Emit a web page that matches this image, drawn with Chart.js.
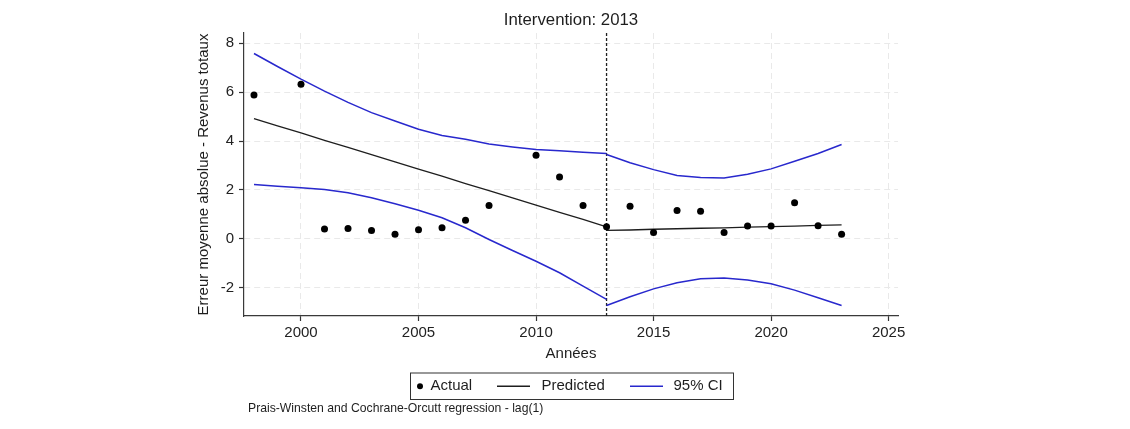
<!DOCTYPE html>
<html>
<head>
<meta charset="utf-8">
<script src="https://cdn.jsdelivr.net/npm/chart.js@4"></script>
<style>
  html, body { margin: 0; padding: 0; background: #ffffff; }
  #wrap { width: 1130px; height: 429px; }
</style>
</head>
<body>
<div id="wrap"><canvas id="c" width="1130" height="429"></canvas></div>
<script>
// ---- data ----
const years = [1998,1999,2000,2001,2002,2003,2004,2005,2006,2007,2008,2009,2010,2011,2012,2013,2014,2015,2016,2017,2018,2019,2020,2021,2022,2023];
const actual = [5.88,null,6.32,0.40,0.42,0.34,0.18,0.37,0.45,0.76,1.36,null,3.42,2.53,1.36,0.49,1.33,0.26,1.16,1.13,0.26,0.52,0.52,1.47,0.53,0.19];

const preYears = [1998,1999,2000,2001,2002,2003,2004,2005,2006,2007,2008,2009,2010,2011,2012,2013];
const predPre  = [4.92,4.62,4.33,4.03,3.74,3.44,3.15,2.85,2.56,2.26,1.97,1.67,1.38,1.08,0.79,0.49];
const upperPre = [7.58,7.05,6.53,6.04,5.58,5.16,4.82,4.48,4.23,4.07,3.88,3.76,3.65,3.60,3.54,3.49];
const lowerPre = [2.22,2.15,2.09,2.02,1.88,1.68,1.43,1.17,0.86,0.45,-0.03,-0.48,-0.92,-1.39,-1.94,-2.48];

const postYears = [2013,2014,2015,2016,2017,2018,2019,2020,2021,2022,2023];
const predPost  = [0.34,0.36,0.39,0.41,0.43,0.45,0.48,0.50,0.52,0.55,0.57];
const upperPost = [3.45,3.11,2.83,2.59,2.51,2.49,2.64,2.86,3.17,3.49,3.86];
const lowerPost = [-2.73,-2.37,-2.05,-1.80,-1.64,-1.61,-1.69,-1.84,-2.10,-2.41,-2.73];

const interventionYear = 2013;
const xTicks = [2000,2005,2010,2015,2020,2025];
const yTicks = [-2,0,2,4,6,8];

const titleText = 'Intervention: 2013';
const xTitle = 'Années';
const yTitle = 'Erreur moyenne absolue - Revenus totaux';
const noteText = 'Prais-Winsten and Cochrane-Orcutt regression - lag(1)';
const legendLabels = ['Actual', 'Predicted', '95% CI'];

// ---- helpers ----
const FONT = '"Liberation Sans", Arial, Helvetica, sans-serif';
const BLUE = 'rgb(40,40,205)';
const BLACK = '#1e1e1e';
function pts(xs, ys) {
  const out = [];
  xs.forEach((x, i) => { if (ys[i] !== null && ys[i] !== undefined) out.push({x: x, y: ys[i]}); });
  return out;
}
function lineDs(label, xs, ys, color, width) {
  return { label, data: pts(xs, ys), borderColor: color, borderWidth: width, pointRadius: 0,
           fill: false, tension: 0, showLine: true };
}

const overlay = {
  id: 'overlay',
  beforeDatasetsDraw(chart) {
    const {ctx, chartArea, scales} = chart;
    const x = scales.x.getPixelForValue(interventionYear);
    ctx.save();
    ctx.strokeStyle = BLACK;
    ctx.lineWidth = 1.3;
    ctx.setLineDash([3, 2]);
    ctx.beginPath();
    ctx.moveTo(x, chartArea.top);
    ctx.lineTo(x, chartArea.bottom);
    ctx.stroke();
    ctx.restore();
  },
  afterDraw(chart) {
    const {ctx, chartArea} = chart;
    const cx = (chartArea.left + chartArea.right) / 2;
    ctx.save();
    ctx.fillStyle = BLACK;
    ctx.textAlign = 'center';
    ctx.textBaseline = 'middle';
    // title
    ctx.font = '16.8px ' + FONT;
    ctx.fillText(titleText, cx, 20);
    // x title
    ctx.font = '15px ' + FONT;
    ctx.fillText(xTitle, cx, 354);
    // y title
    ctx.save();
    ctx.translate(204, (chartArea.top + chartArea.bottom) / 2);
    ctx.rotate(-Math.PI / 2);
    ctx.fillText(yTitle, 0, 0);
    ctx.restore();
    // legend box
    const lx = 410, ly = 372.5, lw = 323, lh = 26.5;
    ctx.strokeStyle = '#333';
    ctx.lineWidth = 1;
    ctx.strokeRect(lx + 0.5, ly + 0.5, lw, lh);
    const my = ly + lh / 2 + 0.5;
    ctx.textAlign = 'left';
    ctx.font = '15px ' + FONT;
    // Actual
    ctx.beginPath();
    ctx.arc(420, my, 3, 0, Math.PI * 2);
    ctx.fillStyle = '#000';
    ctx.fill();
    ctx.fillStyle = BLACK;
    ctx.fillText(legendLabels[0], 430.5, my);
    // Predicted
    ctx.strokeStyle = BLACK;
    ctx.lineWidth = 1.3;
    ctx.beginPath(); ctx.moveTo(497, my); ctx.lineTo(530, my); ctx.stroke();
    ctx.fillText(legendLabels[1], 541.5, my);
    // CI
    ctx.strokeStyle = BLUE;
    ctx.beginPath(); ctx.moveTo(630, my); ctx.lineTo(663, my); ctx.stroke();
    ctx.fillText(legendLabels[2], 673.5, my);
    // note
    ctx.font = '12.2px ' + FONT;
    ctx.fillText(noteText, 248, 408.5);
    ctx.restore();
  }
};

const gridCommon = {
  color: '#e9e9e9', lineWidth: 1, drawTicks: true, tickLength: 5,
  tickColor: '#333', tickWidth: 1.2, tickBorderDash: []
};
const borderCommon = { color: '#3a3a3a', width: 1.2, dash: [6, 4] };

new Chart(document.getElementById('c'), {
  type: 'line',
  data: {
    datasets: [
      { label: 'Actual', data: pts(years, actual), showLine: false, pointRadius: 3.5,
        pointBackgroundColor: '#000', pointBorderWidth: 0, borderColor: '#000' },
      lineDs('Predicted pre', preYears, predPre, BLACK, 1.3),
      lineDs('Predicted post', postYears, predPost, BLACK, 1.3),
      lineDs('Upper CI pre', preYears, upperPre, BLUE, 1.5),
      lineDs('Lower CI pre', preYears, lowerPre, BLUE, 1.5),
      lineDs('Upper CI post', postYears, upperPost, BLUE, 1.5),
      lineDs('Lower CI post', postYears, lowerPost, BLUE, 1.5)
    ]
  },
  options: {
    responsive: false,
    animation: false,
    devicePixelRatio: 1,
    layout: { padding: { top: 33, right: 232, left: 0, bottom: 0 } },
    plugins: { legend: { display: false }, title: { display: false }, tooltip: { enabled: false } },
    scales: {
      x: {
        type: 'linear', min: 1997.575, max: 2025.4,
        afterBuildTicks: s => { s.ticks = xTicks.map(v => ({value: v})); },
        afterFit: s => { s.height = 113; },
        grid: gridCommon, border: borderCommon,
        ticks: { font: { size: 15, family: FONT }, color: '#222', padding: 3, maxRotation: 0, autoSkip: false,
                 callback: v => String(v) }
      },
      y: {
        type: 'linear', min: -3.16, max: 8.42,
        afterBuildTicks: s => { s.ticks = yTicks.map(v => ({value: v})); },
        afterFit: s => { s.width = 244; },
        grid: gridCommon, border: borderCommon,
        ticks: { font: { size: 15, family: FONT }, color: '#222', padding: 5, autoSkip: false,
                 callback: v => String(v) }
      }
    }
  },
  plugins: [overlay]
});
</script>
</body>
</html>
